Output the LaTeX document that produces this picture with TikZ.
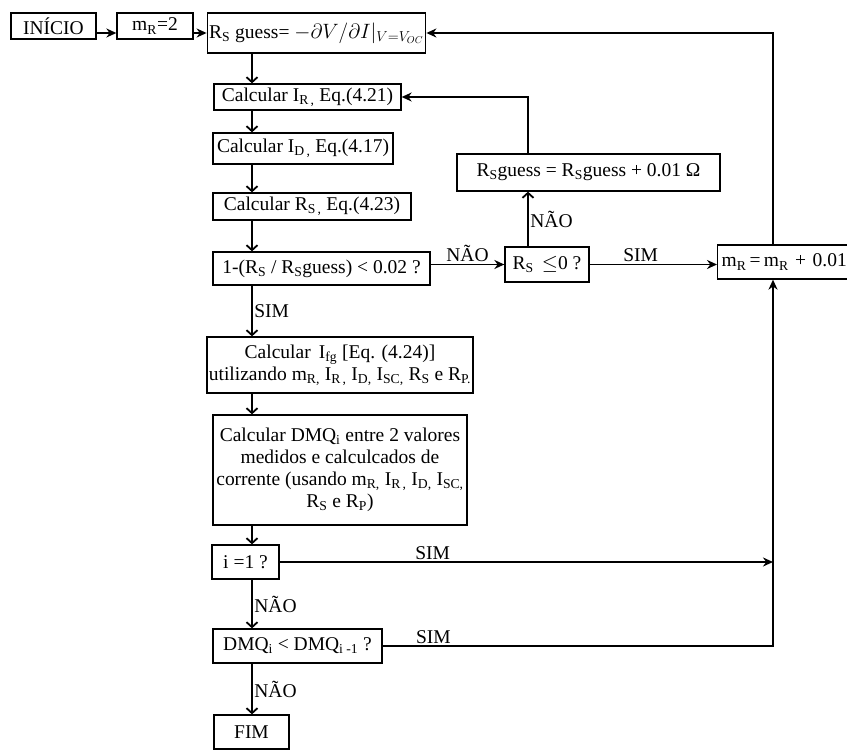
\documentclass[tikz,border=0pt]{standalone}
\usepackage{fontspec}
\setmainfont{Liberation Serif}
\usetikzlibrary{arrows.meta, positioning, calc}

\begin{document}
\begin{tikzpicture}[
    x=1pt, y=-1pt,
    every node/.style={font=\fontsize{19.5}{22}\selectfont},
    bloco/.style={draw, rectangle, line width=1.3pt, inner sep=2pt, align=center},
    arrow/.style={-{Stealth[length=10pt, width=9pt]}, line width=1.8pt},
    barb/.style={-{Straight Barb[length=5pt, width=11pt]}, line width=1.8pt},
    rotulo/.style={inner sep=1.5pt}
]
\clip (0,0) rectangle (847,751);

% Colunas das setas
\coordinate (col) at (252,0);
\coordinate (sobe) at (528,0);
\coordinate (dir) at (773,0);

% Inicio
\node[bloco, minimum width=85pt, minimum height=26pt] (inicio) at (53.5,26) {INÍCIO};
\node[bloco, minimum width=76pt, minimum height=26pt] (mr) at (155,26) {m\textsubscript{R}=2};
\node[bloco, minimum width=205pt, minimum height=40pt] (rsg) at (316.5,33) {R\textsubscript{S} guess= $-\partial V/\partial I|_{V=V_{OC}}$};

% Coluna principal
\node[bloco, minimum width=187pt, minimum height=26pt] (ir) at (307.5,97) {Calcular I\textsubscript{R\,,} Eq.(4.21)};
\node[bloco, minimum width=180pt, minimum height=31pt] (id) at (303,148.5) {Calcular I\textsubscript{D\,,} Eq.(4.17)};
\node[bloco, minimum width=198pt, minimum height=27pt] (rs) at (312,206.5) {Calcular R\textsubscript{S\,,} Eq.(4.23)};
\node[bloco, minimum width=217pt, minimum height=33pt] (conv) at (321.5,268.5) {1-(R\textsubscript{S} / R\textsubscript{S}guess) < 0.02 ?};

% Ramo da direita
\node[bloco, minimum width=84pt, minimum height=35pt] (rsneg) at (547,264.5) {R\textsubscript{S} \,$\le$0 ?};
\node[bloco, minimum width=263pt, minimum height=37pt] (rsupd) at (588.5,172.5) {R\textsubscript{S}guess = R\textsubscript{S}guess + 0.01 Ω};
\node[bloco, anchor=west, text width=140pt, align=left, inner xsep=4pt, minimum height=34pt] (mrupd) at (717,262) {m\textsubscript{R}\,=\,m\textsubscript{R} + 0.01};

% Calculo final
\node[bloco, minimum width=254pt, minimum height=56pt] (ifg) at (340,365) {Calcular \,I\textsubscript{fg} [Eq. (4.24)]\\utilizando m\textsubscript{R,} I\textsubscript{R\,,} I\textsubscript{D,} I\textsubscript{SC,} R\textsubscript{S} e R\textsubscript{P.}};
\node[bloco, minimum width=254pt, minimum height=110pt] (dmq) at (340,470) {Calcular DMQ\textsubscript{i} entre 2 valores\\medidos e calculcados de\\corrente (usando m\textsubscript{R,} I\textsubscript{R\,,} I\textsubscript{D,} I\textsubscript{SC,}\\R\textsubscript{S} e R\textsubscript{P})};
\node[bloco, minimum width=67pt, minimum height=34pt] (ieq) at (245.5,562) {i =1 ?};
\node[bloco, minimum width=169pt, minimum height=34pt] (dmqc) at (297.5,646) {DMQ\textsubscript{i} < DMQ\textsubscript{i -1} ?};
\node[bloco, minimum width=75pt, minimum height=34pt] (fim) at (251.5,732) {FIM};

% Setas horizontais do topo
\draw[arrow] ([yshift=-7pt]inicio.east) -- ([yshift=-7pt]mr.west);
\draw[arrow] ([yshift=-7pt]mr.east) -- (rsg.west);

% Setas da coluna principal
\draw[barb] (rsg.south -| col) -- (ir.north -| col);
\draw[barb] (ir.south -| col) -- (id.north -| col);
\draw[barb] (id.south -| col) -- (rs.north -| col);
\draw[barb] (rs.south -| col) -- (conv.north -| col);
\draw[barb] (conv.south -| col) -- node[right, rotulo] {SIM} (ifg.north -| col);
\draw[barb] (ifg.south -| col) -- (dmq.north -| col);
\draw[barb] (dmq.south -| col) -- (ieq.north -| col);
\draw[barb] (ieq.south -| col) -- node[right, rotulo] {NÃO} (dmqc.north -| col);
\draw[barb] (dmqc.south -| col) -- node[right, rotulo] {NÃO} (fim.north -| col);

% Laco do Rs
\draw[arrow] (conv.east |- rsneg.west) -- node[above, rotulo] {NÃO} (rsneg.west);
\draw[barb] (rsneg.north -| sobe) -- node[right, rotulo] {NÃO} (rsupd.south -| sobe);
\draw[arrow] (rsupd.north -| sobe) |- (ir.east);
\draw[arrow] (rsneg.east) -- node[above, rotulo, pos=.4] {SIM} (rsneg.east -| mrupd.west);

% Laco do mR
\draw[arrow] (mrupd.north -| dir) |- (rsg.east);
\draw[arrow] (ieq.east) -- node[above, rotulo, pos=.31] {SIM} (ieq.east -| dir);
\draw[arrow] (dmqc.east) -- node[above, rotulo, pos=.13] {SIM} (dmqc.east -| dir) -- (mrupd.south -| dir);

\end{tikzpicture}
\end{document}
